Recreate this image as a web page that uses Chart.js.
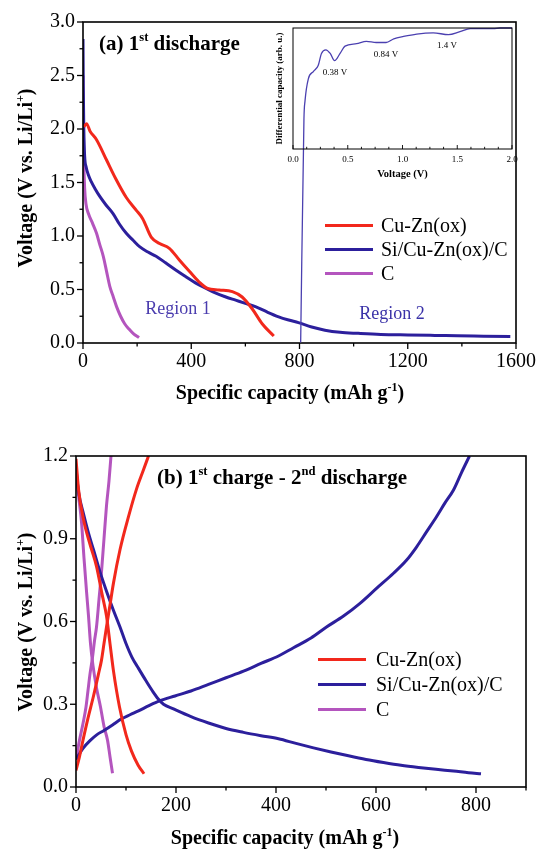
<!DOCTYPE html>
<html>
<head>
<meta charset="utf-8">
<script src="https://cdn.jsdelivr.net/npm/chart.js@4.4.1/dist/chart.umd.min.js"></script>
<style>
body { margin: 0; background: #fff; }
#wrap { position: relative; width: 543px; height: 851px; background: #fff; overflow: hidden;
  font-family: "Liberation Serif", "Times New Roman", serif; color: #000; }
canvas { position: absolute; }
.t { position: absolute; white-space: nowrap; line-height: 1; transform: translate(-50%, -50%); }
.tl { position: absolute; white-space: nowrap; line-height: 1; transform: translateY(-50%); }
.b { font-weight: bold; }
.rot { transform: translate(-50%, -50%) rotate(-90deg); }
sup { font-size: 0.6em; vertical-align: 0.7em; line-height: 0; }
.sw { position: absolute; height: 3px; }
</style>
</head>
<body>
<div id="wrap">
  <canvas id="cA" width="543" height="420" style="left:0;top:0"></canvas>
  <canvas id="cIn" width="275" height="345" style="left:255px;top:0"></canvas>
  <canvas id="cB" width="543" height="421" style="left:0;top:430px"></canvas>

  <div class="tl b" style="left:99px;top:43px;font-size:21px">(a) 1<sup>st</sup> discharge</div>
  <div class="t b rot" style="left:25px;top:178px;font-size:20px">Voltage (V vs. Li/Li<sup>+</sup>)</div>
  <div class="t b" style="left:290px;top:392px;font-size:20px">Specific capacity (mAh g<sup>-1</sup>)</div>
  <div class="t" style="left:178px;top:308px;font-size:18px;color:#4a3cae">Region 1</div>
  <div class="t" style="left:392px;top:313px;font-size:18px;color:#3a32a8">Region 2</div>

  <div class="t" style="left:335px;top:72px;font-size:9px">0.38 V</div>
  <div class="t" style="left:386px;top:54px;font-size:9px">0.84 V</div>
  <div class="t" style="left:447px;top:45px;font-size:9px">1.4 V</div>

  <div class="sw" style="left:325px;top:224px;width:48px;background:#f2281c"></div>
  <div class="sw" style="left:325px;top:248px;width:48px;background:#2c1f9c"></div>
  <div class="sw" style="left:325px;top:272px;width:48px;background:#b455be"></div>
  <div class="tl" style="left:381px;top:225px;font-size:20px">Cu-Zn(ox)</div>
  <div class="tl" style="left:381px;top:249px;font-size:20px">Si/Cu-Zn(ox)/C</div>
  <div class="tl" style="left:381px;top:273px;font-size:20px">C</div>

  <div class="tl b" style="left:157px;top:477px;font-size:21px">(b) 1<sup>st</sup> charge - 2<sup>nd</sup> discharge</div>
  <div class="t b rot" style="left:25px;top:622px;font-size:20px">Voltage (V vs. Li/Li<sup>+</sup>)</div>
  <div class="t b" style="left:285px;top:837px;font-size:20px">Specific capacity (mAh g<sup>-1</sup>)</div>

  <div class="sw" style="left:318px;top:658px;width:48px;background:#f2281c"></div>
  <div class="sw" style="left:318px;top:683px;width:48px;background:#2c1f9c"></div>
  <div class="sw" style="left:318px;top:708px;width:48px;background:#b455be"></div>
  <div class="tl" style="left:376px;top:659px;font-size:20px">Cu-Zn(ox)</div>
  <div class="tl" style="left:376px;top:684px;font-size:20px">Si/Cu-Zn(ox)/C</div>
  <div class="tl" style="left:376px;top:709px;font-size:20px">C</div>
</div>

<script>
// (a) first discharge
var capA_cuzn = [3, 13, 26, 50, 87, 120, 160, 197, 221, 252, 283, 319, 356, 393, 429, 460, 503, 552, 588, 625, 662, 705];
var voltA_cuzn = [2.02, 2.05, 1.98, 1.90, 1.71, 1.54, 1.36, 1.24, 1.16, 0.99, 0.93, 0.885, 0.776, 0.67, 0.57, 0.51, 0.495, 0.48, 0.43, 0.32, 0.18, 0.065];

var capA_si = [0, 1, 3, 6, 12, 20, 30, 45, 62, 85, 111, 135, 160, 185, 209, 240, 270, 305, 344, 380, 417, 455, 491, 528, 564, 600, 637, 680, 723, 760, 796, 845, 894, 950, 1017, 1100, 1200, 1300, 1383, 1480, 1579];
var voltA_si = [2.84, 2.4, 2.0, 1.75, 1.64, 1.57, 1.51, 1.44, 1.37, 1.29, 1.21, 1.11, 1.025, 0.96, 0.90, 0.85, 0.81, 0.75, 0.68, 0.62, 0.56, 0.51, 0.465, 0.43, 0.40, 0.37, 0.34, 0.29, 0.245, 0.215, 0.19, 0.15, 0.12, 0.10, 0.09, 0.08, 0.075, 0.071, 0.068, 0.064, 0.06];

var capA_c = [0, 1, 3, 6, 11, 20, 35, 50, 62, 75, 87, 99, 112, 124, 139, 154, 170, 185, 207];
var voltA_c = [2.5, 2.1, 1.7, 1.45, 1.3, 1.21, 1.12, 1.025, 0.92, 0.81, 0.67, 0.53, 0.43, 0.34, 0.25, 0.18, 0.13, 0.09, 0.05];

// inset: differential capacity
var insetVolt = [0.07, 0.1, 0.11, 0.14, 0.186, 0.23, 0.26, 0.30, 0.34, 0.38, 0.43, 0.475, 0.58, 0.67, 0.76, 0.85, 0.92, 1.01, 1.13, 1.28, 1.42, 1.525, 1.62, 1.83, 1.89, 2.0];
var insetDiff = [-1.6, 0.25, 0.40, 0.58, 0.64, 0.69, 0.79, 0.82, 0.79, 0.73, 0.79, 0.85, 0.87, 0.89, 0.88, 0.88, 0.91, 0.93, 0.95, 0.96, 0.945, 0.97, 0.995, 0.995, 1.0, 1.0];

// (b) first charge / second discharge
var capB_cuzn_dis = [0, 5, 15, 28, 41, 52, 61, 68, 75, 87, 100, 111, 124, 136];
var voltB_cuzn_dis = [1.19, 1.08, 0.97, 0.88, 0.80, 0.70, 0.62, 0.52, 0.42, 0.29, 0.19, 0.13, 0.08, 0.048];
var capB_cuzn_chg = [0, 7, 14, 24, 35, 45, 51, 56, 61, 68, 75, 88, 105, 121, 135, 145];
var voltB_cuzn_chg = [0.06, 0.11, 0.17, 0.25, 0.33, 0.41, 0.46, 0.52, 0.58, 0.66, 0.74, 0.86, 0.98, 1.08, 1.15, 1.2];

var capB_si_dis = [0, 5, 15, 25, 35, 48, 61, 75, 88, 100, 112, 125, 140, 153, 165, 175, 195, 230, 265, 300, 335, 370, 405, 440, 475, 510, 545, 580, 615, 650, 685, 720, 755, 785, 810];
var voltB_si_dis = [1.15, 1.07, 0.99, 0.92, 0.86, 0.78, 0.71, 0.64, 0.58, 0.52, 0.47, 0.43, 0.385, 0.348, 0.318, 0.30, 0.283, 0.255, 0.232, 0.212, 0.198, 0.186, 0.175, 0.158, 0.142, 0.127, 0.113, 0.1, 0.089, 0.079, 0.071, 0.064, 0.058, 0.052, 0.048];
var capB_si_chg = [0, 14, 28, 42, 56, 73, 90, 108, 125, 146, 167, 198, 230, 265, 300, 335, 370, 405, 435, 470, 501, 535, 568, 601, 635, 660, 681, 701, 721, 738, 755, 771, 787];
var voltB_si_chg = [0.1, 0.14, 0.168, 0.19, 0.205, 0.225, 0.246, 0.262, 0.276, 0.295, 0.312, 0.33, 0.348, 0.372, 0.396, 0.42, 0.448, 0.475, 0.505, 0.54, 0.58, 0.62, 0.666, 0.72, 0.775, 0.82, 0.87, 0.925, 0.98, 1.03, 1.077, 1.14, 1.2];

var capB_c_dis = [0, 5, 11, 16, 21, 25, 29, 34, 41, 49, 56, 63, 68, 73];
var voltB_c_dis = [1.16, 1.06, 0.96, 0.83, 0.71, 0.62, 0.52, 0.44, 0.36, 0.29, 0.22, 0.17, 0.11, 0.05];
var capB_c_chg = [0, 7, 14, 20, 24, 28, 33, 37, 41, 46, 51, 56, 61, 66, 70];
var voltB_c_chg = [0.1, 0.17, 0.23, 0.29, 0.35, 0.41, 0.47, 0.53, 0.58, 0.68, 0.78, 0.9, 1.02, 1.11, 1.2];

var RED = "#f2281c", BLUE = "#2c1f9c", PURPLE = "#b455be";

function pts(xs, ys) {
  return xs.map(function(x, i) { return {x: x, y: ys[i]}; });
}
function line(label, xs, ys, color) {
  return {label: label, data: pts(xs, ys), borderColor: color, backgroundColor: color,
          borderWidth: 3, pointRadius: 0, fill: false, cubicInterpolationMode: "monotone"};
}

// frame around plot + tick marks (major and minor)
var frameTicks = {
  id: "frameTicks",
  afterDraw: function(chart, args, o) {
    var ctx = chart.ctx, a = chart.chartArea;
    var sx = chart.scales.x, sy = chart.scales.y;
    var dir = o.inward ? -1 : 1;
    ctx.save();
    ctx.strokeStyle = "#000";
    ctx.lineWidth = o.tickWidth;
    function isMajor(v, step) { return Math.abs(v / step - Math.round(v / step)) < 1e-6; }
    if (o.xMinor) {
      var n = Math.round((sx.max - sx.min) / o.xMinor);
      for (var i = 0; i <= n; i++) {
        var v = sx.min + i * o.xMinor;
        var len = isMajor(v, o.xMajor) ? o.majorLen : o.minorLen;
        var px = sx.getPixelForValue(v);
        ctx.beginPath(); ctx.moveTo(px, a.bottom); ctx.lineTo(px, a.bottom + dir * len); ctx.stroke();
      }
    }
    if (o.yMinor) {
      var m = Math.round((sy.max - sy.min) / o.yMinor);
      for (var j = 0; j <= m; j++) {
        var w = sy.min + j * o.yMinor;
        var l2 = isMajor(w, o.yMajor) ? o.majorLen : o.minorLen;
        var py = sy.getPixelForValue(w);
        ctx.beginPath(); ctx.moveTo(a.left, py); ctx.lineTo(a.left - dir * l2, py); ctx.stroke();
      }
    }
    ctx.lineWidth = o.frameWidth;
    ctx.strokeRect(a.left, a.top, a.right - a.left, a.bottom - a.top);
    ctx.restore();
  }
};

var tickFont = {family: "Liberation Serif", size: 20};

function mainChart(id, sets, c) {
  return new Chart(document.getElementById(id), {
    type: "line",
    data: {datasets: sets},
    options: {
      responsive: false,
      animation: false,
      layout: {padding: c.pad},
      plugins: {
        legend: {display: false},
        tooltip: {enabled: false},
        frameTicks: {xMinor: c.xMinor, xMajor: c.xStep, yMinor: c.yMinor, yMajor: c.yStep,
                     majorLen: 6, minorLen: 3.5, tickWidth: 1.3, frameWidth: 1.6, inward: false}
      },
      scales: {
        x: {
          type: "linear", min: c.xMin, max: c.xMax,
          afterFit: function(s) { s.height = c.xH; },
          grid: {display: false, drawTicks: false},
          border: {display: false},
          ticks: {stepSize: c.xStep, includeBounds: false, padding: 7, color: "#000", font: tickFont,
                  maxRotation: 0, autoSkip: false,
                  callback: function(v) { return String(Math.round(v)); }}
        },
        y: {
          type: "linear", min: c.yMin, max: c.yMax,
          afterFit: function(s) { s.width = c.yW; },
          grid: {display: false, drawTicks: false},
          border: {display: false},
          ticks: {stepSize: c.yStep, includeBounds: false, padding: 8, color: "#000", font: tickFont,
                  callback: function(v) { return Number(v).toFixed(1); }}
        }
      }
    },
    plugins: [frameTicks]
  });
}

mainChart("cA", [
  line("Cu-Zn(ox)", capA_cuzn, voltA_cuzn, RED),
  line("Si/Cu-Zn(ox)/C", capA_si, voltA_si, BLUE),
  line("C", capA_c, voltA_c, PURPLE)
], {pad: {left: 0, top: 22, right: 24, bottom: 0}, xH: 77, yW: 83,
    xMin: 0, xMax: 1600, xStep: 400, xMinor: 200, yMin: 0, yMax: 3, yStep: 0.5, yMinor: 0.25});

mainChart("cB", [
  line("Cu-Zn(ox)", capB_cuzn_dis, voltB_cuzn_dis, RED),
  line("Cu-Zn(ox) charge", capB_cuzn_chg, voltB_cuzn_chg, RED),
  line("Si/Cu-Zn(ox)/C", capB_si_dis, voltB_si_dis, BLUE),
  line("Si/Cu-Zn(ox)/C charge", capB_si_chg, voltB_si_chg, BLUE),
  line("C", capB_c_dis, voltB_c_dis, PURPLE),
  line("C charge", capB_c_chg, voltB_c_chg, PURPLE)
], {pad: {left: 0, top: 26, right: 17, bottom: 0}, xH: 64, yW: 76,
    xMin: 0, xMax: 900, xStep: 200, xMinor: 100, yMin: 0, yMax: 1.2, yStep: 0.3, yMinor: 0.15});

// inset
new Chart(document.getElementById("cIn"), {
  type: "line",
  data: {datasets: [{
    label: "dQ/dV", data: pts(insetVolt, insetDiff), borderColor: "#4b40b0",
    borderWidth: 1.3, pointRadius: 0, fill: false, clip: false, cubicInterpolationMode: "monotone"
  }]},
  options: {
    responsive: false,
    animation: false,
    layout: {padding: {left: 0, top: 28, right: 18, bottom: 164}},
    plugins: {
      legend: {display: false},
      tooltip: {enabled: false},
      frameTicks: {xMinor: 0.125, xMajor: 0.5, yMinor: null, majorLen: 4, minorLen: 2.2,
                   tickWidth: 0.9, frameWidth: 1, inward: true}
    },
    scales: {
      x: {
        type: "linear", min: 0, max: 2,
        afterFit: function(s) { s.height = 32; },
        grid: {display: false, drawTicks: false},
        border: {display: false},
        ticks: {stepSize: 0.5, includeBounds: false, padding: 5, color: "#000",
                font: {family: "Liberation Serif", size: 9}, maxRotation: 0,
                callback: function(v) { return Number(v).toFixed(1); }},
        title: {display: true, text: "Voltage (V)", color: "#000", padding: {top: 0, bottom: 0},
                font: {family: "Liberation Serif", size: 10.5, weight: "bold"}}
      },
      y: {
        type: "linear", min: 0, max: 1,
        afterFit: function(s) { s.width = 38; },
        grid: {display: false, drawTicks: false},
        border: {display: false},
        ticks: {display: false},
        title: {display: true, text: "Differential capacity (arb. u.)", color: "#000",
                padding: {top: 19, bottom: 0},
                font: {family: "Liberation Serif", size: 9, weight: "bold"}}
      }
    }
  },
  plugins: [frameTicks]
});
</script>
</body>
</html>
